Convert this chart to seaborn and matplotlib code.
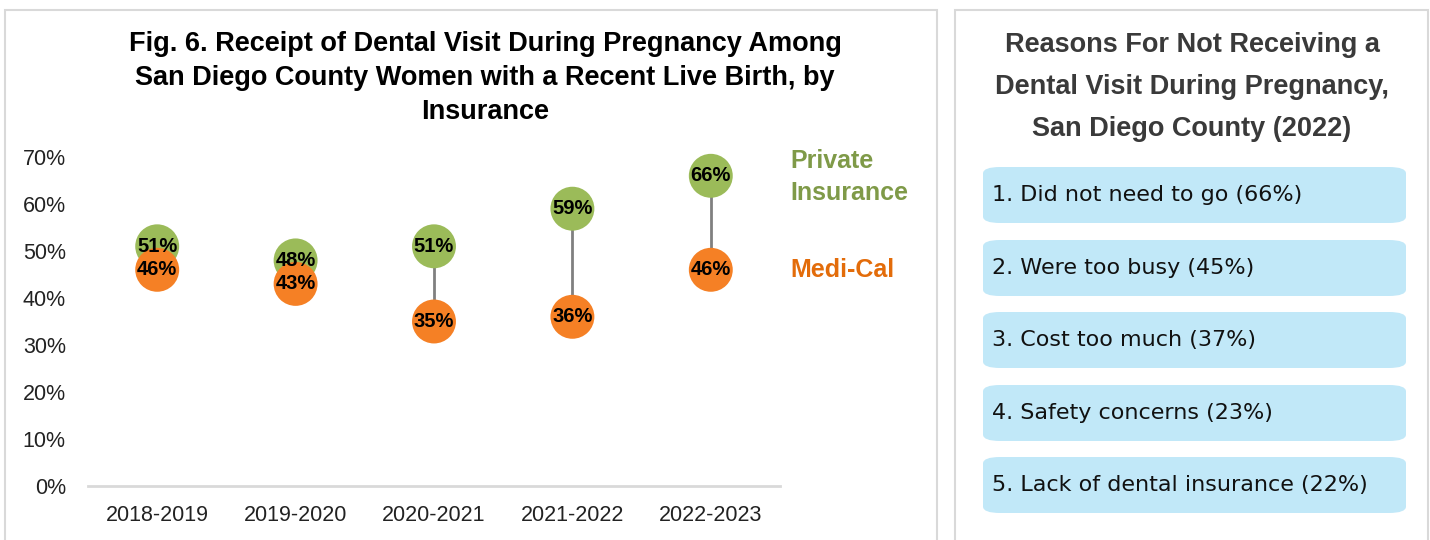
import matplotlib.pyplot as plt
from matplotlib.patches import FancyBboxPatch, Rectangle
from matplotlib.ticker import PercentFormatter
import seaborn as sns
import pandas as pd

# data
years = ["2018-2019", "2019-2020", "2020-2021", "2021-2022", "2022-2023"]
private_ins = [51, 48, 51, 59, 66]
medi_cal = [46, 43, 35, 36, 46]
reasons = ["Did not need to go", "Were too busy", "Cost too much",
           "Safety concerns", "Lack of dental insurance"]
reason_pct = [66, 45, 37, 23, 22]

green = "#9BBB59"
orange = "#F58025"
green_txt = "#7F9A48"
orange_txt = "#E36C0A"

sns.set_theme(style="white")
plt.rcParams['font.family'] = ['Liberation Sans', 'DejaVu Sans']

df = pd.DataFrame({
    "year": years * 2,
    "value": private_ins + medi_cal,
    "group": ["Private Insurance"] * len(years) + ["Medi-Cal"] * len(years),
})

fig = plt.figure(figsize=(14.3, 5.4), dpi=100)

# panel borders
fig.patches.append(Rectangle((5 / 1430, -0.01), 932 / 1430, 1 - 10 / 540 + 0.01, transform=fig.transFigure,
                             fill=False, edgecolor="#D9D9D9", linewidth=1.5))
fig.patches.append(Rectangle((955 / 1430, -0.01), 473 / 1430, 1 - 10 / 540 + 0.01, transform=fig.transFigure,
                             fill=False, edgecolor="#D9D9D9", linewidth=1.5))

ax = fig.add_axes([88 / 1430, 54 / 540, 692 / 1430, 329 / 540])
x = list(range(len(years)))
ax.vlines(x, medi_cal, private_ins, color="#808080", linewidth=2, zorder=1)
sns.scatterplot(data=df, x="year", y="value", hue="group",
                palette={"Private Insurance": green, "Medi-Cal": orange},
                s=1000, linewidth=0, legend=False, ax=ax, zorder=2, clip_on=False)
for i in x:
    ax.text(i, private_ins[i], f"{private_ins[i]}%", ha="center", va="center",
            fontsize=14.5, fontweight="bold", color="black", zorder=4)
    ax.text(i, medi_cal[i], f"{medi_cal[i]}%", ha="center", va="center",
            fontsize=14.5, fontweight="bold", color="black", zorder=3)

ax.set_xlim(-0.5, 4.5)
ax.set_ylim(0, 70)
ax.set_yticks(range(0, 71, 10))
ax.yaxis.set_major_formatter(PercentFormatter(decimals=0))
ax.set_xlabel("")
ax.set_ylabel("")
ax.tick_params(axis="both", labelsize=15.5, length=0, colors="#222222")
ax.tick_params(axis="x", pad=14)
ax.tick_params(axis="y", pad=16)
for side in ["top", "right", "left"]:
    ax.spines[side].set_visible(False)
ax.spines["bottom"].set_color("#D9D9D9")
ax.spines["bottom"].set_linewidth(2)
ax.set_facecolor("none")

fig.text(485 / 1430, 1 - 78 / 540,
         "Fig. 6. Receipt of Dental Visit During Pregnancy Among\nSan Diego County Women with a Recent Live Birth, by\nInsurance",
         ha="center", va="center", fontsize=19.5, fontweight="bold", linespacing=1.4, color="black")

fig.text(790 / 1430, 1 - 177 / 540, "Private\nInsurance", ha="left", va="center",
         fontsize=18, fontweight="bold", color=green_txt, linespacing=1.4)
fig.text(790 / 1430, 1 - 270 / 540, "Medi-Cal", ha="left", va="center",
         fontsize=18, fontweight="bold", color=orange_txt)

# right panel
fig.text(1192 / 1430, 1 - 87 / 540,
         "Reasons For Not Receiving a\nDental Visit During Pregnancy,\nSan Diego County (2022)",
         ha="center", va="center", fontsize=19.5, fontweight="bold", color="#3A3A3A",
         linespacing=1.8)

box_top = [167, 240, 312, 385, 457]
for i, (r, p) in enumerate(zip(reasons, reason_pct)):
    y0 = 1 - (box_top[i] + 56) / 540
    fig.patches.append(FancyBboxPatch((983 / 1430, y0), 423 / 1430, 56 / 540,
                                      boxstyle="round,pad=0,rounding_size=0.012",
                                      transform=fig.transFigure, facecolor="#C1E8F8",
                                      edgecolor="none"))
    fig.text(992 / 1430, y0 + 28 / 540, f"{i + 1}. {r} ({p}%)", ha="left", va="center",
             fontsize=16, color="#111111", family=["DejaVu Sans"])

plt.savefig("out.png", dpi=100)
plt.close()
